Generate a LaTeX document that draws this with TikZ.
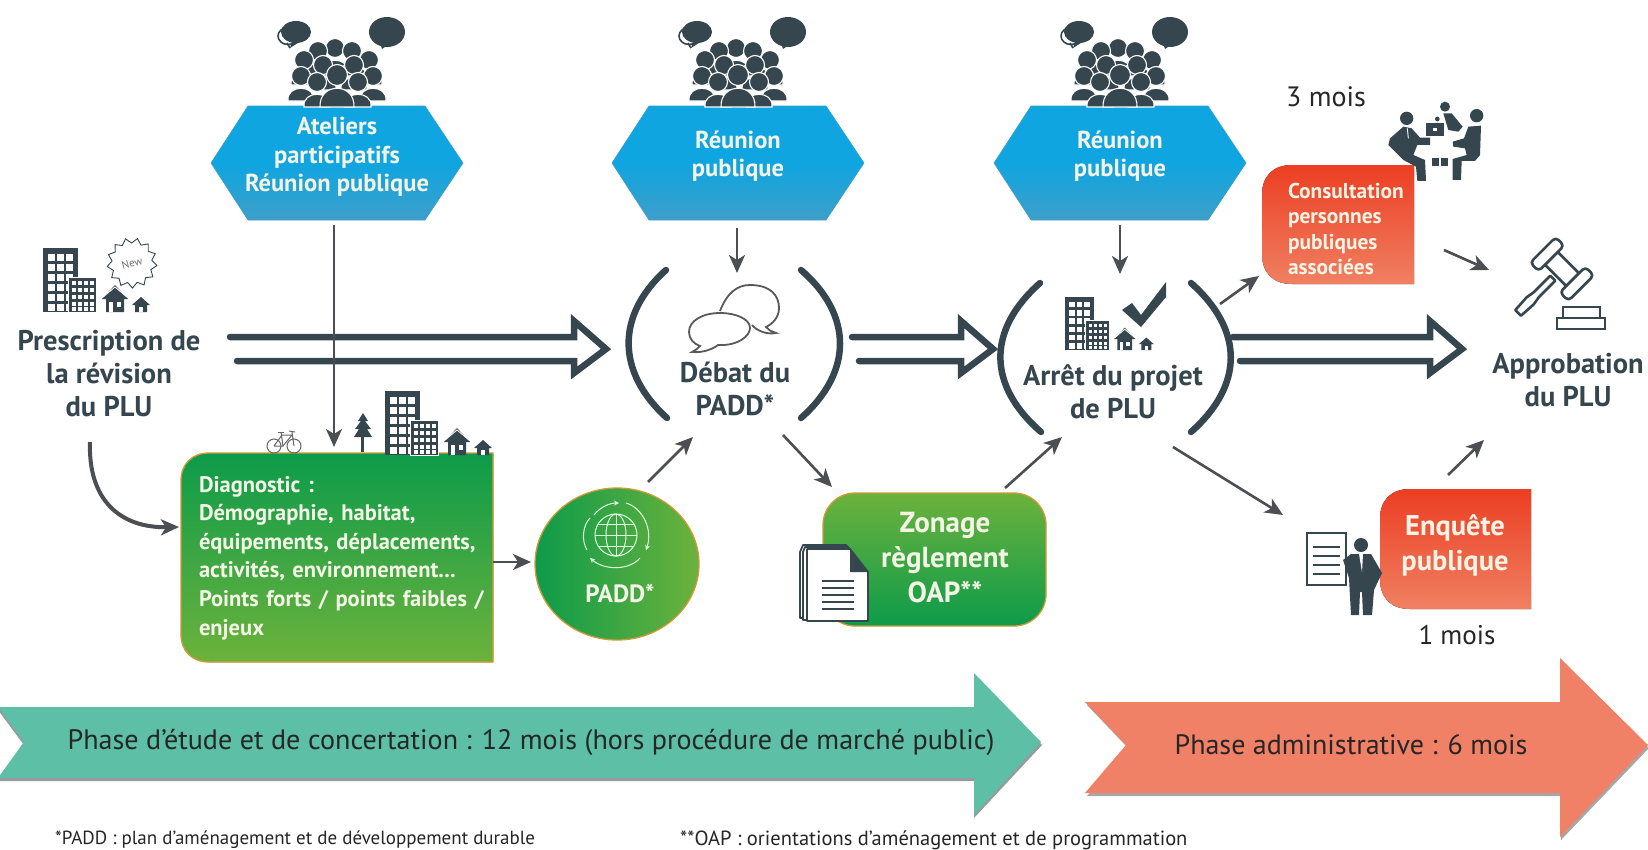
\documentclass[tikz,border=0pt]{standalone}
\usepackage{fontspec}
\setmainfont{PT Sans}
\usetikzlibrary{arrows.meta,calc,shapes.geometric,shadings}
\definecolor{ink}{HTML}{35464F}
\definecolor{arrowgrey}{HTML}{4B4E52}
\definecolor{hextop}{HTML}{0FA5E0}
\definecolor{hexbot}{HTML}{3D9FC9}
\definecolor{greendark}{HTML}{0D9B4A}
\definecolor{greenlight}{HTML}{6CB23C}
\definecolor{redtop}{HTML}{EC3E22}
\definecolor{redbot}{HTML}{F08062}
\definecolor{edgeorange}{HTML}{D09A35}
\definecolor{teal}{HTML}{5DBFA5}
\definecolor{salmon}{HTML}{F08066}
\definecolor{boxtext}{HTML}{F4F4E6}
\newcommand{\fs}[2]{\fontsize{#1}{#2}\selectfont}
\newcommand{\dblarrow}[2]{%
  \coordinate (dfrom) at #1; \coordinate (dto) at #2;
  \draw[dblarr] ($(dfrom)+(0,-12)$) -- ($(dto)+(-32,-12)$) -- ($(dto)+(-32,-28)$) -- (dto)
    -- ($(dto)+(-32,24)$) -- ($(dto)+(-32,12)$) -- ($(dfrom)+(7,12)$);}
\tikzset{
  arr/.style={draw=arrowgrey,line width=2.6pt,-{Stealth[length=18pt,width=16pt,inset=5pt]}},
  dblarr/.style={draw=ink,line width=6.5pt,line join=miter,line cap=round},
  paren/.style={draw=ink,line width=6.5pt,line cap=round},
  title/.style={inner sep=0pt,align=center,text=ink,font=\bfseries\fs{28.5}{33}},
  hextext/.style={inner sep=0pt,align=center,text=boxtext,font=\bfseries\fs{24.5}{28.5}},
  boxtxt/.style={inner sep=0pt,align=left,text=boxtext,font=\bfseries},
  plain/.style={inner sep=0pt,text=black!85},
  hexagon pic/.pic={\shade[top color=hextop,bottom color=hexbot,middle color=hextop,draw=hexbot,line width=.6pt]
     (-126,0) -- (-89,-57) -- (88,-57) -- (126,0) -- (88,57) -- (-89,57) -- cycle;},
  crowd/.pic={
    \foreach \x/\y in {-2/-58,-19/-55,15/-55,-33/-46,32/-46,-14/-41,17/-41,-36/-30,36/-30,-20/-24,21/-24}{
      \begin{scope}[shift={(\x,\y)}]
        \fill[ink,draw=white,line width=1.1pt] (-13,25) .. controls (-15,8) and (15,8) .. (13,25) -- cycle;
        \fill[ink,draw=white,line width=1.1pt] (0,0) circle (9.5);
      \end{scope}}
    \fill[ink,draw=white,line width=1.1pt] (-17,1) .. controls (-18,-24) and (18,-24) .. (17,1) -- cycle;
    \fill[ink,draw=white,line width=1.1pt] (0,-31) circle (10.5);
    \fill[ink] (50,-74) ellipse (18 and 15);
    \fill[ink] (42,-66) -- (45,-57) -- (55,-64) -- cycle;
    \draw[ink,line width=1.6pt,fill=white] (-49,-70) ellipse (10 and 8.5);
    \draw[ink,line width=1.6pt] (-50,-63) -- (-47,-58);
    \fill[ink] (-41,-74) ellipse (15 and 11);
    \fill[ink] (-44,-68) -- (-47,-58) -- (-36,-65) -- cycle;
  },
  buildings/.pic={
    \fill[ink] (0,-64) rectangle (35,0);
    \foreach \cx in {5,14,23}{\foreach \cy in {-58,-48,-38,-28,-18,-8}{\fill[white] (\cx,\cy) rectangle ++(6.5,6.5);}}
    \fill[ink,draw=white,line width=1pt] (25,-35) rectangle (53,0);
    \foreach \cx in {29,35,41,47}{\foreach \cy in {-31,-24,-17,-10,-5}{\fill[white] (\cx,\cy) rectangle ++(3.8,3.8);}}
    \fill[ink] (59,-13) -- (72,-27) -- (85,-13) -- (81,-13) -- (81,0) -- (63,0) -- (63,-13) -- cycle;
    \draw[white,line width=.9pt] (60,-15) -- (72,-25) -- (84,-15);
    \fill[white] (66,-10) rectangle (70,0);
    \fill[white] (74,-10) rectangle (78,-5);
    \fill[ink] (89,-7) -- (98,-15) -- (107,-7) -- (104,-7) -- (104,0) -- (92,0) -- (92,-7) -- cycle;
    \fill[white] (96,-5) rectangle (100,0);
  },
  gavel/.pic={
    \begin{scope}[rotate=45,draw=ink,line width=2.6pt,fill=white,line join=round]
      \draw (-62,-4) -- (-45,-5) -- (-36,-3.5) -- (-13,-3.5) -- (-13,3.5) -- (-36,3.5) -- (-45,5) -- (-62,4) -- cycle;
      \draw[fill=white] (-9,-15) rectangle (9,15);
      \draw[fill=white,rounded corners=4pt] (-18,-27) rectangle (18,-15);
      \draw[fill=white,rounded corners=4pt] (-18,15) rectangle (18,27);
    \end{scope}
  },
}
\begin{document}
\begin{tikzpicture}[x=1pt,y=-1pt,font=\fs{26}{32}]
\useasboundingbox (0,0) rectangle (1648,849);
\fill[white] (0,0) rectangle (1648,849);

% bottom phase arrows
\fill[black!40] (-2,710) -- (974,710) -- (974,676) -- (1042,745) -- (974,818) -- (974,781) -- (-2,781) -- (24,745) -- cycle;
\fill[teal] (-2,707) -- (974,707) -- (974,673) -- (1041,742) -- (974,815) -- (974,778) -- (-2,778) -- (24,742) -- cycle;
\fill[black!35] (1087,705) -- (1561,705) -- (1561,661) -- (1649,748) -- (1561,840) -- (1561,796) -- (1087,796) -- (1128,748) -- cycle;
\fill[salmon] (1085,702) -- (1560,702) -- (1560,658) -- (1648,745) -- (1560,837) -- (1560,793) -- (1085,793) -- (1126,745) -- cycle;
\node[plain,font=\fs{28.1}{32}] (phaseA) at (531,742) {Phase d’étude et de concertation : 12 mois (hors procédure de marché public)};
\node[plain,font=\fs{28}{32}] (phaseB) at (1351,745) {Phase administrative : 6 mois};
\node[plain,anchor=west,font=\fs{19}{22}] (noteA) at (55,840) {*PADD : plan d’aménagement et de développement durable};
\node[plain,anchor=west,font=\fs{20.5}{22}] (noteB) at (680,840) {**OAP : orientations d’aménagement et de programmation};

% participation hexagons
\pic at (337,163) {hexagon pic};
\pic at (738,163) {hexagon pic};
\pic at (1120,163) {hexagon pic};
\pic at (337,106) {crowd};
\pic at (738,106) {crowd};
\pic at (1120,106) {crowd};
\node[hextext] (hexA) at (337,157) {Ateliers\\participatifs\\Réunion publique};
\node[hextext] (hexB) at (738,156) {Réunion\\publique};
\node[hextext] (hexC) at (1120,156) {Réunion\\publique};

% prescription
\pic at (43,312) {buildings};
\node[star,star points=13,star point ratio=1.25,minimum size=50pt,inner sep=0pt,draw=ink,line width=.9pt,fill=white,text=black!55,font=\fs{11}{12},rotate=15] (newburst) at (132,263) {New};
\node[title] (presc) at (109,374) {Prescription de\\la révision\\du PLU};

% boxes
\fill[top color=greendark,bottom color=greenlight,draw=edgeorange,line width=1.3pt]
  (493,453) -- (209,453) .. controls (192,453) and (181,464) .. (181,481) -- (181,634) .. controls (181,651) and (192,662) .. (209,662) -- (493,662) -- cycle;
\node[boxtxt,text width=294pt,font=\bfseries\fs{22.5}{28.6}] (diag) at (346,558) {Diagnostic :\\Démographie, habitat,\\équipements, déplacements,\\activités, environnement...\\Points forts / points faibles /\\enjeux};

\node[ellipse,minimum width=164pt,minimum height=152pt,inner sep=0pt,left color=greendark,right color=greenlight,draw=edgeorange,line width=1.3pt] (padd) at (617,564) {};
\node[inner sep=0pt,text=boxtext,font=\bfseries\fs{25}{28}] (paddtxt) at (620,593) {PADD*};
% globe
\begin{scope}[draw=white!88!green,line width=1pt]
  \draw (616,535) circle (21);
  \draw (616,535) ellipse (10 and 21);
  \draw (616,514) -- (616,556);
  \draw (595,535) -- (637,535);
  \draw (598,524) -- (634,524);
  \draw (598,546) -- (634,546);
  \draw[-{Stealth[length=5pt,width=5pt]}] (594,515) .. controls (600,507) and (610,503) .. (619,503);
  \draw[-{Stealth[length=5pt,width=5pt]}] (626,503) .. controls (643,508) and (653,530) .. (646,550);
  \draw[-{Stealth[length=5pt,width=5pt]}] (640,558) .. controls (630,570) and (605,571) .. (590,558);
  \draw (587,550) .. controls (581,540) and (583,525) .. (590,518);
\end{scope}

\node[rectangle,rounded corners=32pt,minimum width=223pt,minimum height=133pt,inner sep=0pt,top color=greenlight,bottom color=greendark,draw=edgeorange,line width=1.3pt] (zonage) at (934.5,559.5) {};
\node[inner sep=0pt,align=center,text=boxtext,font=\bfseries\fs{29}{35}] (zonagetxt) at (945,558) {Zonage\\règlement\\OAP**};
% documents
\begin{scope}[draw=ink,line width=1.8pt,fill=white,line join=round]
  \draw[fill=white] (800,552) -- (803,545) -- (846,545) -- (862,566) -- (862,618) -- (800,618) -- cycle;
  \draw[fill=white] (803,552) -- (805,547) -- (848,547) -- (865,569) -- (865,620) -- (803,620) -- cycle;
  \draw[fill=white] (807,549) -- (850,549) -- (868,572) -- (868,621) -- (807,621) -- cycle;
  \fill[ink] (850,549) -- (850,572) -- (868,572) -- cycle;
  \foreach \ly in {581,588,595,602,609}{\draw[line width=2.2pt] (822,\ly) -- (854,\ly);}
\end{scope}

\fill[top color=redtop,bottom color=redbot]
  (1414,165) -- (1292,165) .. controls (1273,165) and (1262,176) .. (1262,195) -- (1262,254) .. controls (1262,273) and (1273,284) .. (1292,284) -- (1414,284) -- cycle;
\node[boxtxt,text width=130pt,font=\bfseries\fs{21.4}{25.2}] (consult) at (1353,229) {Consultation\\personnes\\publiques\\associées};
\node[plain,font=\fs{28}{30}] (troism) at (1326,97) {3 mois};

\fill[top color=redtop,bottom color=redbot]
  (1531,489) -- (1410,489) .. controls (1391,489) and (1380,500) .. (1380,519) -- (1380,579) .. controls (1380,598) and (1391,609) .. (1410,609) -- (1531,609) -- cycle;
\node[inner sep=0pt,align=center,text=boxtext,font=\bfseries\fs{28.5}{35}] (enquete) at (1455,545) {Enquête\\publique};
\node[plain,font=\fs{27}{30}] (unm) at (1457,635) {1 mois};

% person with document
\draw[ink,line width=2.6pt,fill=white] (1307,533) -- (1335,533) -- (1346,533) -- (1346,585) -- (1307,585) -- cycle;
\foreach \ly in {547,556,565,574}{\draw[ink,line width=2.8pt] (1313,\ly) -- (1340,\ly);}
\fill[ink] (1361,545) circle (7);
\fill[ink] (1351,554) -- (1371,554) -- (1382,573) -- (1374,590) -- (1372,615) -- (1363,615) -- (1362,592) -- (1360,592) -- (1359,615) -- (1351,615) -- (1349,578) -- (1343,560) -- cycle;
\fill[white] (1359,554) -- (1363,554) -- (1362,572) -- cycle;

% meeting
\begin{scope}[shift={(1380,95)},x=.3333pt,y=-.3333pt]
  \fill[ink] (80,70) circle (20);
  \fill[ink] (70,95) -- (95,100) -- (120,128) -- (150,128) -- (150,150) -- (112,150) -- (100,180) -- (135,195) -- (138,258) -- (112,258) -- (108,215) -- (70,195) -- (25,150) -- (30,130) -- cycle;
  \draw[white,line width=.9pt] (82,100) -- (85,130);
  \fill[ink] (290,62) circle (20);
  \fill[ink] (265,95) -- (303,92) -- (300,180) -- (285,198) -- (245,198) -- (243,255) -- (218,255) -- (218,192) -- (260,180) -- (255,160) -- (220,155) -- (218,140) -- (252,130) -- cycle;
  \fill[ink] (195,35) circle (15);
  \fill[ink] (190,55) -- (215,55) -- (248,95) -- (235,110) -- (205,105) -- cycle;
  \fill[ink] (172,72) circle (7);
  \fill[ink] (158,85) -- (184,85) -- (184,95) -- (158,95) -- cycle;
  \fill[ink] (138,85) rectangle (192,122);
  \fill[white] (158,98) rectangle (170,108);
  \fill[ink] (155,190) rectangle (178,212);
  \fill[ink] (183,190) rectangle (205,212);
\end{scope}

% gavel
\pic at (1562,269) {gavel};
\draw[ink,line width=2.6pt,fill=white] (1563,307) rectangle (1600,318);
\draw[ink,line width=2.6pt,fill=white] (1557,318) rectangle (1605,329);

% brackets + central items
\draw[paren] (666,270) .. controls (616,315) and (616,372) .. (667,418);
\draw[paren] (801,270) .. controls (853,315) and (853,372) .. (801,418);
\draw[paren] (1040,283) .. controls (987,330) and (987,385) .. (1041,432);
\draw[paren] (1191,283) .. controls (1244,330) and (1244,385) .. (1191,432);

\draw[draw=black!65,line width=1.8pt] (720,311) .. controls (727,293) and (737,285) .. (750,285) .. controls (770,285) and (779,295) .. (779,308) .. controls (779,318) and (772,324) .. (766,327) .. controls (768,330) and (771,331) .. (776,333) .. controls (766,335) and (756,330) .. (752,325);
\draw[draw=black!65,line width=1.8pt,fill=white] (720,313) .. controls (702,313) and (689,321) .. (689,332) .. controls (689,339) and (694,344) .. (700,346) .. controls (698,349) and (695,350) .. (692,352) .. controls (703,353) and (713,349) .. (718,345) .. controls (738,346) and (750,336) .. (750,328) .. controls (750,319) and (736,313) .. (720,313) -- cycle;
\node[title] (debat) at (735,389) {Débat du\\PADD*};

\pic[scale=.83] at (1065,350) {buildings};
\fill[ink] (1122,310) -- (1132,303) -- (1141,315) -- (1166,282) -- (1166,297) -- (1141,327) -- cycle;
\node[title] (arret) at (1113,392) {Arrêt du projet\\de PLU};
\node[title] (approb) at (1568,380) {Approbation\\du PLU};

% diagnostic decorations
\pic at (385,455) {buildings};
\fill[ink] (361,452) rectangle (364,425);
\fill[ink] (363,413) -- (368,421) -- (365,421) -- (371,429) -- (367,429) -- (372,437) -- (354,437) -- (359,429) -- (355,429) -- (361,421) -- (358,421) -- cycle;
\begin{scope}[draw=black!60,line width=1pt]
  \draw (274,446) circle (7); \draw (294,446) circle (7);
  \draw (274,446) -- (282,435) -- (292,435) -- (283,446) -- (274,446);
  \draw (292,432) -- (294,446); \draw (281,432) -- (283,446);
  \draw (278,432) -- (284,432); \draw (289,431) -- (295,432);
\end{scope}

% connectors
\dblarrow{([shift={(121,-25)}]presc.center)}{([shift={(-129,-40)}]debat.center)}
\dblarrow{([shift={(117,-40)}]debat.center)}{([shift={(-120,-43)}]arret.center)}
\dblarrow{([shift={(120,-43)}]arret.center)}{([shift={(-106,-31)}]approb.center)}
\draw[arr] ([shift={(-3,68)}]hexA.center) -- ([shift={(-12,-111)}]diag.center);
\draw[arr] ([shift={(-1,72)}]hexB.center) -- ([shift={(2,-116)}]debat.center);
\draw[arr] ([shift={(0,69)}]hexC.center) -- ([shift={(7,-118)}]arret.center);
\draw[arr,line width=4pt] ([shift={(-19,68)}]presc.center) .. controls (88,500) and (120,528) .. ([shift={(-167,-31)}]diag.center);
\draw[arr] ([shift={(147,4)}]diag.center) -- ([shift={(-86,-2)}]padd.center);
\draw[arr] ([shift={(31,-82)}]padd.center) -- ([shift={(-42,48)}]debat.center);
\draw[arr] ([shift={(48,46)}]debat.center) -- ([shift={(-102.5,-72.5)}]zonage.center);
\draw[arr] ([shift={(70.5,-71.5)}]zonage.center) -- ([shift={(-51,45)}]arret.center);
\draw[arr] ([shift={(60,55)}]arret.center) -- ([shift={(-172,-30)}]enquete.center);
\draw[arr] ([shift={(107,-88)}]arret.center) -- ([shift={(-94,47)}]consult.center);
\draw[arr] ([shift={(91,21)}]consult.center) -- ([shift={(-79,-110)}]approb.center);
\draw[arr] ([shift={(-7,-70)}]enquete.center) -- ([shift={(-84,60)}]approb.center);
\end{tikzpicture}
\end{document}
